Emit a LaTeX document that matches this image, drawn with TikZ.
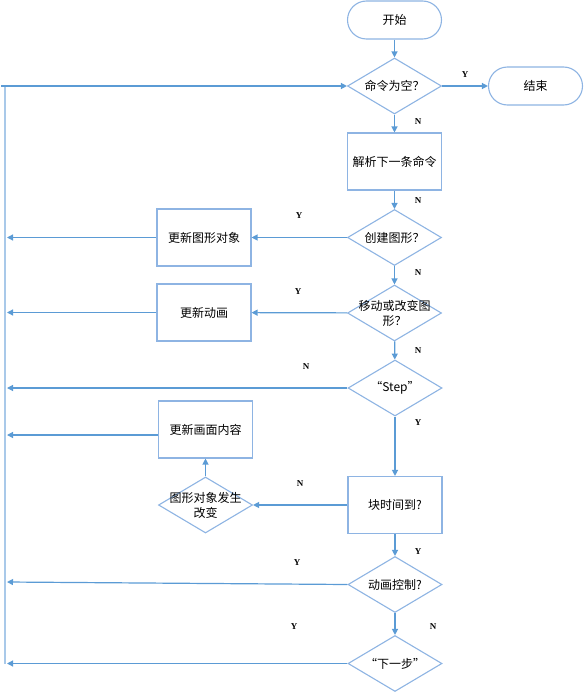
\documentclass[tikz,border=0pt]{standalone}
\usepackage{fontspec}
\newfontfamily\cjk{Noto Sans CJK SC}
\setmainfont{Liberation Serif}
\usetikzlibrary{shapes.geometric,arrows.meta,calc}
\definecolor{edge}{HTML}{5B9BD5}
\definecolor{border}{HTML}{8EB4E3}
\definecolor{rail}{HTML}{A9C9E9}
\tikzset{
 base/.style={draw=border, line width=1.1pt, fill=white, inner sep=0pt},
 term/.style={base, rounded corners=19pt, minimum width=94pt, minimum height=38pt},
 proc/.style={base, rectangle, minimum width=94pt, minimum height=57pt},
 dec/.style={base, diamond, minimum width=94pt, minimum height=56pt},
 lbl/.style={font=\cjk\fontsize{12}{15}\selectfont, align=center, inner sep=0pt},
 yn/.style={font=\fontsize{9}{10}\selectfont\bfseries, inner sep=0pt},
 conn/.style={draw=edge, line width=1.2pt, -{Triangle[length=6pt,width=6pt]}},
}
\begin{document}
\begin{tikzpicture}[x=1pt,y=-1pt]
\useasboundingbox (0,0) rectangle (586,693);
% nodes
\node[term] (start) at (394.5,20) {};
\node[lbl] (startt) at (start) {开始};
\node[dec] (q1) at (394.5,86) {};
\node[lbl] (q1t) at (q1) {命令为空？};
\node[term] (end) at (535.5,86) {};
\node[lbl] (endt) at (end) {结束};
\node[proc] (parse) at (394.5,161.5) {};
\node[lbl] (parset) at (parse) {解析下一条命令};
\node[dec] (q2) at (394.5,237.5) {};
\node[lbl] (q2t) at (q2) {创建图形？};
\node[proc] (upd1) at (204,237.5) {};
\node[lbl] (upd1t) at (upd1) {更新图形对象};
\node[dec] (q3) at (394.5,313) {};
\node[lbl] (q3t) at (q3) {移动或改变图\\形？};
\node[proc] (upd2) at (204,312.5) {};
\node[lbl] (upd2t) at (upd2) {更新动画};
\node[dec] (q4) at (395,388) {};
\node[lbl] (q4t) at (q4) {“Step”};
\node[proc] (upd3) at (205.5,429.5) {};
\node[lbl] (upd3t) at (upd3) {更新画面内容};
\node[dec] (q5) at (205.5,505) {};
\node[lbl] (q5t) at (q5) {图形对象发生\\改变};
\node[proc] (blk) at (395,505) {};
\node[lbl] (blkt) at (blk) {块时间到?};
\node[dec] (q6) at (395,584.5) {};
\node[lbl] (q6t) at (q6) {动画控制?};
\node[dec] (q7) at (395,663.5) {};
\node[lbl] (q7t) at (q7) {“下一步”};
% rail coordinates
\coordinate (rtop) at (5,87);
\coordinate (rbot) at (5,664);
\coordinate (tl) at (1,86);
\coordinate (r1) at (7,237.5);
\coordinate (r2) at (7,312.5);
\coordinate (r3) at (7,388);
\coordinate (r4) at (7,435);
\coordinate (r5) at (7,582);
\coordinate (r6) at (7,663.5);
% rail
\draw[draw=rail, line width=2.2pt] (rtop) -- (rbot);
% connectors
\draw[conn] (tl) -- (q1.west);
\draw[conn] (start) -- (q1);
\draw[conn] (q1) -- (end);
\draw[conn] (q1) -- (parse);
\draw[conn] (parse) -- (q2);
\draw[conn] (q2) -- (upd1);
\draw[conn] (upd1) -- (r1);
\draw[conn] (q2) -- (q3);
\draw[conn] (q3) -- (upd2);
\draw[conn] (upd2) -- (r2);
\draw[conn] (q3) -- (q4);
\draw[conn] (q4.west) -- (r3);
\draw[conn] (q4) -- (blk);
\draw[conn] (blk) -- (q5);
\draw[conn] (q5) -- (upd3);
\draw[conn] ($(upd3.west)+(0,5.5)$) -- (r4);
\draw[conn] (blk) -- (q6);
\draw[conn] (q6.west) -- (r5);
\draw[conn] (q6) -- (q7);
\draw[conn] (q7.west) -- (r6);
% Y/N labels
\node[yn] (l1) at (465,75) {Y};
\node[yn] (l2) at (418,122) {N};
\node[yn] (l3) at (418,201) {N};
\node[yn] (l4) at (299,216) {Y};
\node[yn] (l5) at (418,273) {N};
\node[yn] (l6) at (298,292) {Y};
\node[yn] (l7) at (418,351) {N};
\node[yn] (l8) at (306,367) {N};
\node[yn] (l9) at (418,423) {Y};
\node[yn] (l10) at (300,484) {N};
\node[yn] (l11) at (418,552) {Y};
\node[yn] (l12) at (297,563) {Y};
\node[yn] (l13) at (294,627) {Y};
\node[yn] (l14) at (433,627) {N};
\end{tikzpicture}
\end{document}
